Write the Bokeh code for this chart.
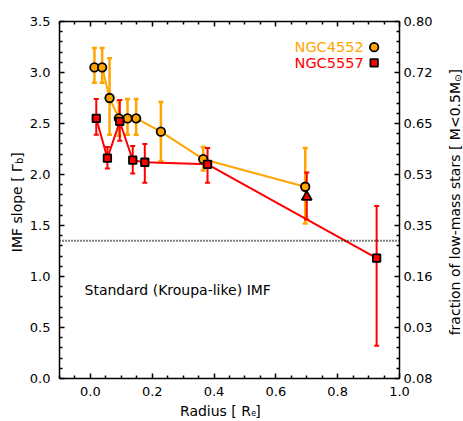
import math
from bokeh.plotting import figure
from bokeh.layouts import row, column
from bokeh.models import LinearAxis, FixedTicker, Label, Span, Range1d, ColumnDataSource
from bokeh.embed import file_html
from bokeh.resources import INLINE

# ---------------- data ----------------
# NGC4552 (orange circles)
n4552_r = [0.013, 0.038, 0.062, 0.092, 0.120, 0.148, 0.228, 0.365, 0.695]
n4552_slope = [3.05, 3.05, 2.75, 2.55, 2.55, 2.55, 2.42, 2.15, 1.88]
n4552_lo = [2.90, 2.90, 2.39, 2.38, 2.39, 2.39, 2.13, 2.04, 1.52]
n4552_hi = [3.24, 3.24, 3.14, 2.72, 2.74, 2.74, 2.71, 2.27, 2.26]

# NGC5557 (red squares)
n5557_r = [0.019, 0.055, 0.095, 0.137, 0.176, 0.379, 0.926]
n5557_slope = [2.55, 2.16, 2.52, 2.14, 2.12, 2.10, 1.18]
n5557_lo = [2.39, 2.06, 2.33, 2.01, 1.92, 1.92, 0.32]
n5557_hi = [2.74, 2.27, 2.73, 2.28, 2.30, 2.26, 1.69]

# NGC5557 extra point (triangle)
tri_r = [0.700]
tri_slope = [1.78]
tri_lo = [1.56]
tri_hi = [2.02]

kroupa_slope = 1.35

x_ticks = [0.0, 0.2, 0.4, 0.6, 0.8, 1.0]
x_tick_labels = ["0.0", "0.2", "0.4", "0.6", "0.8", "1.0"]
x_minor = [-0.1, -0.05, 0.05, 0.1, 0.15, 0.25, 0.3, 0.35, 0.45, 0.5, 0.55,
           0.65, 0.7, 0.75, 0.85, 0.9, 0.95]
y_ticks = [0.0, 0.5, 1.0, 1.5, 2.0, 2.5, 3.0, 3.5]
y_tick_labels = ["0.0", "0.5", "1.0", "1.5", "2.0", "2.5", "3.0", "3.5"]
y_right_labels = ["0.08", "0.03", "0.16", "0.35", "0.53", "0.65", "0.72", "0.80"]
y_minor = [round(0.1 * i, 1) for i in range(36) if i % 5 != 0]

ORANGE = "#FFA500"
RED = "#FF0000"
FONT = "DejaVu Sans"
A = math.pi / 2

LW, RW = 26, 26          # widths of the title strips
MAIN_W = 463 - LW - RW

# ---------------- main plot ----------------
p = figure(width=MAIN_W, height=400, x_range=Range1d(-0.1, 1.0), y_range=Range1d(0, 3.5),
           output_backend="svg", toolbar_location=None,
           min_border_left=58 - LW, min_border_right=MAIN_W - (399 - LW),
           min_border_top=21, min_border_bottom=22)
p.xgrid.visible = False
p.ygrid.visible = False
p.outline_line_color = None
p.background_fill_color = "white"
p.border_fill_color = "white"

top_axis = LinearAxis()
right_axis = LinearAxis()
p.add_layout(top_axis, "above")
p.add_layout(right_axis, "right")


def style_axis(ax, ticks, minors, labels, standoff):
    ax.ticker = FixedTicker(ticks=ticks, minor_ticks=minors)
    ax.major_label_overrides = {t: l for t, l in zip(ticks, labels)}
    ax.major_tick_in = 5
    ax.major_tick_out = 0
    ax.minor_tick_in = 3
    ax.minor_tick_out = 0
    ax.axis_line_width = 1.5
    ax.major_tick_line_width = 1.5
    ax.minor_tick_line_width = 1.5
    ax.axis_line_color = "black"
    ax.major_tick_line_color = "black"
    ax.minor_tick_line_color = "black"
    ax.major_label_text_font = FONT
    ax.major_label_text_font_size = "13px"
    ax.major_label_text_color = "black"
    ax.major_label_standoff = standoff
    ax.axis_label = None


style_axis(p.below[0], x_ticks, x_minor, x_tick_labels, 8)
style_axis(p.left[0], y_ticks, y_minor, y_tick_labels, 9)
style_axis(top_axis, x_ticks, x_minor, [""] * len(x_ticks), 0)
style_axis(right_axis, y_ticks, y_minor, y_right_labels, 4)

# Kroupa line
p.add_layout(Span(location=kroupa_slope, dimension="width", line_color="black",
                  line_width=2, line_dash="1 2"))

src_o = ColumnDataSource(dict(x=n4552_r, y=n4552_slope, lo=n4552_lo, hi=n4552_hi))
src_r = ColumnDataSource(dict(x=n5557_r, y=n5557_slope, lo=n5557_lo, hi=n5557_hi))
src_t = ColumnDataSource(dict(x=tri_r, y=tri_slope, lo=tri_lo, hi=tri_hi))

# error bars
p.segment(x0="x", y0="lo", x1="x", y1="hi", source=src_o, line_color=ORANGE, line_width=2.5)
for col in ("lo", "hi"):
    p.scatter(x="x", y=col, source=src_o, marker="dash", size=5, line_color=ORANGE, line_width=2.5)
for s in (src_r, src_t):
    p.segment(x0="x", y0="lo", x1="x", y1="hi", source=s, line_color=RED, line_width=2)
    for col in ("lo", "hi"):
        p.scatter(x="x", y=col, source=s, marker="dash", size=5, line_color=RED, line_width=2)

# connecting lines
p.line(x="x", y="y", source=src_o, line_color=ORANGE, line_width=2)
p.line(x="x", y="y", source=src_r, line_color=RED, line_width=2)

# markers
p.scatter(x="x", y="y", source=src_o, marker="circle", size=8.5, fill_color=ORANGE,
          line_color="black", line_width=1.8)
p.scatter(x="x", y="y", source=src_r, marker="square", size=7.5, fill_color=RED,
          line_color="black", line_width=1.8)
p.scatter(x="x", y="y", source=src_t, marker="triangle", size=10, fill_color=RED,
          line_color="black", line_width=1.8)

# legend (text left of symbol)
LEG_TX, LEG_MX = 0.884, 0.918
p.add_layout(Label(x=LEG_TX, y=3.248, text="NGC4552", text_align="right", text_baseline="middle",
                   text_font=FONT, text_font_size="14.5px", text_color=ORANGE))
p.add_layout(Label(x=LEG_TX, y=3.095, text="NGC5557", text_align="right", text_baseline="middle",
                   text_font=FONT, text_font_size="14.5px", text_color=RED))
p.scatter(x=[LEG_MX], y=[3.248], marker="circle", size=8.5, fill_color=ORANGE,
          line_color="black", line_width=1.8)
p.scatter(x=[LEG_MX], y=[3.095], marker="square", size=7.5, fill_color=RED,
          line_color="black", line_width=1.8)

p.add_layout(Label(x=-0.019, y=0.8725, text="Standard (Kroupa-like) IMF", text_align="left",
                   text_baseline="middle", text_font=FONT, text_font_size="14px", text_color="black"))


# ---------------- title strips (page-pixel coordinates) ----------------
def strip(w, h, x0, x1, y0, y1):
    f = figure(width=w, height=h, x_range=Range1d(x0, x1), y_range=Range1d(y1, y0),
               output_backend="svg", toolbar_location=None,
               x_axis_location=None, y_axis_location=None,
               min_border_left=0, min_border_right=0, min_border_top=0, min_border_bottom=0)
    f.outline_line_color = None
    f.background_fill_color = "white"
    f.border_fill_color = "white"
    f.xgrid.visible = False
    f.ygrid.visible = False
    return f


def lab(f, x, y, text, size, align, angle=0.0):
    f.add_layout(Label(x=x, y=y, text=text, text_align=align, text_baseline="alphabetic",
                       angle=angle, text_font=FONT, text_font_size=size, text_color="black"))


left = strip(LW, 421, 0, LW, 0, 421)
lab(left, 16.7, 163.6, "IMF slope [ Γ", "14px", "right", A)
lab(left, 19.4, 163.6, "b", "10px", "left", A)
lab(left, 16.7, 157.2, " ]", "14px", "left", A)

bottom = strip(MAIN_W, 21, LW, 463 - RW, 400, 421)
lab(bottom, 257.5, 410.3, "Radius [ R", "14px", "right")
lab(bottom, 257.8, 412.3, "e", "8px", "left")
lab(bottom, 262.5, 410.3, " ]", "14px", "left")

right = strip(RW, 421, 463 - RW, 463, 0, 421)
lab(right, 454.5, 81.5, "fraction of low-mass stars [ M<0.5M", "14px", "right", A)
lab(right, 457.0, 81.5, "⊙", "9px", "left", A)
lab(right, 454.5, 74.0, " ]", "14px", "left", A)

layout = row(left, column(p, bottom, spacing=0), right, spacing=0)

open("out.html", "w").write(file_html(layout, INLINE))
